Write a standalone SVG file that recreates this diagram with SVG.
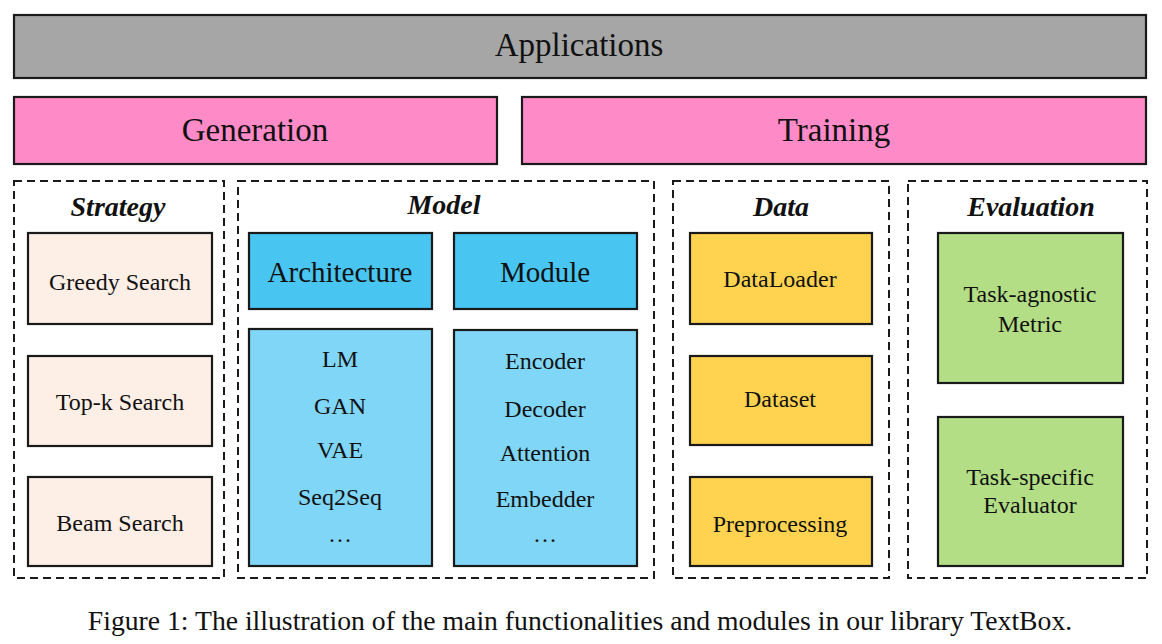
<svg xmlns="http://www.w3.org/2000/svg" width="1162" height="644" viewBox="0 0 1162 644">
<style>
.box{stroke:#1a1a1a;stroke-width:2.2}
.dash{fill:none;stroke:#1a1a1a;stroke-width:2;stroke-dasharray:8 5}
text{font-family:"Liberation Serif","Times New Roman",serif;fill:#111;text-anchor:middle}
.big{font-size:33px}
.hdr{font-size:29px}
.ttl{font-size:28px;font-weight:bold;font-style:italic}
.itm{font-size:24px}
.cap{font-size:27.7px}
</style>
<rect width="1162" height="644" fill="#fff"/>
<g id="applications">
<rect class="box" x="14" y="15" width="1132" height="63" fill="#a6a6a6"/>
<text class="big" x="579" y="56">Applications</text>
</g>
<g id="generation">
<rect class="box" x="14" y="97" width="483" height="67" fill="#ff8ac8"/>
<text class="big" x="255" y="141">Generation</text>
</g>
<g id="training">
<rect class="box" x="522" y="97" width="624" height="67" fill="#ff8ac8"/>
<text class="big" x="834" y="141">Training</text>
</g>
<g id="strategy">
<rect class="dash" x="14" y="181" width="210" height="397"/>
<text class="ttl" x="118" y="216">Strategy</text>
</g>
<g id="greedy">
<rect class="box" x="28" y="233" width="184" height="91" fill="#fdeee6"/>
<text class="itm" x="120" y="290">Greedy Search</text>
</g>
<g id="topk">
<rect class="box" x="28" y="356" width="184" height="90" fill="#fdeee6"/>
<text class="itm" x="120" y="410">Top-k Search</text>
</g>
<g id="beam">
<rect class="box" x="28" y="477" width="184" height="89" fill="#fdeee6"/>
<text class="itm" x="120" y="531">Beam Search</text>
</g>
<g id="model">
<rect class="dash" x="238" y="181" width="416" height="397"/>
<text class="ttl" x="444" y="214">Model</text>
</g>
<g id="architecture">
<rect class="box" x="249" y="233" width="183" height="76" fill="#48c6f1"/>
<text class="hdr" x="340" y="282">Architecture</text>
</g>
<g id="module">
<rect class="box" x="454" y="233" width="183" height="76" fill="#48c6f1"/>
<text class="hdr" x="545" y="282">Module</text>
</g>
<g id="architecture-list">
<rect class="box" x="249" y="329" width="183" height="237" fill="#80d6f6"/>
<text class="itm" x="340" y="367">LM</text>
<text class="itm" x="340" y="414">GAN</text>
<text class="itm" x="340" y="458">VAE</text>
<text class="itm" x="340" y="505">Seq2Seq</text>
<text class="itm" x="340" y="542">…</text>
</g>
<g id="module-list">
<rect class="box" x="454" y="330" width="183" height="236" fill="#80d6f6"/>
<text class="itm" x="545" y="369">Encoder</text>
<text class="itm" x="545" y="417">Decoder</text>
<text class="itm" x="545" y="461">Attention</text>
<text class="itm" x="545" y="507">Embedder</text>
<text class="itm" x="545" y="542">…</text>
</g>
<g id="data">
<rect class="dash" x="673" y="181" width="216" height="397"/>
<text class="ttl" x="781" y="216">Data</text>
</g>
<g id="dataloader">
<rect class="box" x="690" y="233" width="182" height="91" fill="#ffd34f"/>
<text class="itm" x="780" y="287">DataLoader</text>
</g>
<g id="dataset">
<rect class="box" x="690" y="356" width="182" height="89" fill="#ffd34f"/>
<text class="itm" x="780" y="407">Dataset</text>
</g>
<g id="preprocessing">
<rect class="box" x="690" y="477" width="182" height="89" fill="#ffd34f"/>
<text class="itm" x="780" y="532">Preprocessing</text>
</g>
<g id="evaluation">
<rect class="dash" x="908" y="181" width="239" height="397"/>
<text class="ttl" x="1031" y="216">Evaluation</text>
</g>
<g id="task-agnostic">
<rect class="box" x="938" y="233" width="185" height="150" fill="#b3de86"/>
<text class="itm" x="1030" y="302">Task-agnostic</text>
<text class="itm" x="1030" y="332">Metric</text>
</g>
<g id="task-specific">
<rect class="box" x="938" y="417" width="185" height="149" fill="#b3de86"/>
<text class="itm" x="1030" y="485">Task-specific</text>
<text class="itm" x="1030" y="513">Evaluator</text>
</g>
<g id="connectors"></g>
<text class="cap" x="580" y="630">Figure 1: The illustration of the main functionalities and modules in our library TextBox.</text>
</svg>
